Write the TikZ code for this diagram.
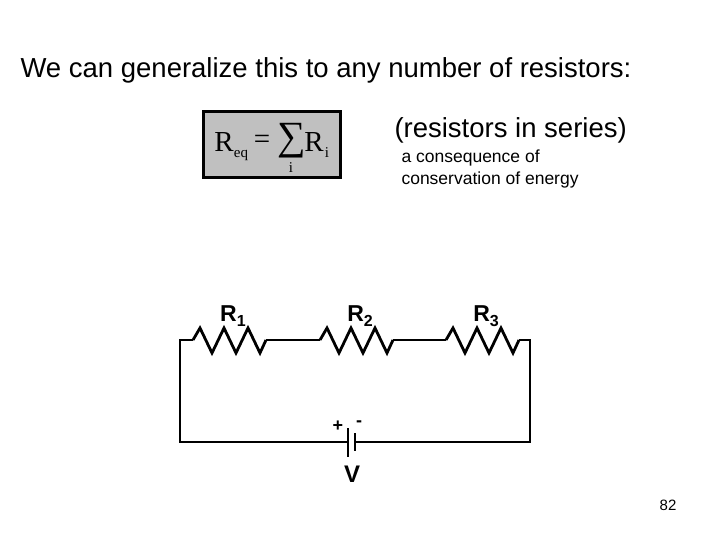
\documentclass[tikz,border=0pt]{standalone}
\usepackage{fontspec}
\setmainfont{Liberation Sans}
\newfontfamily\serifr{Liberation Serif}
\begin{document}
\begin{tikzpicture}[x=1pt,y=-1pt,wire/.style={line width=2.8pt,line join=miter},
  fs/.style={font=\serifr\fontsize{#1}{#1}\selectfont,inner sep=0}]
\useasboundingbox (0,0) rectangle (720,540);
\node[anchor=west,font=\fontsize{27.5}{30}\selectfont] (title) at (17,70) {We can generalize this to any number of resistors:};
\node[draw,line width=2.5pt,fill={rgb,255:red,192;green,192;blue,192},minimum width=137,minimum height=66] (box) at (272,144.5) {};
\node[fs=29] (fR) at (224,142) {R};
\node[fs=15] (feq) at (241,155) {eq};
\node[fs=29] (feqs) at (262,142) {=};
\node[fs=40] (fsum) at (292,141) {∑};
\node[fs=15] (fi1) at (291,168) {i};
\node[fs=29] (fR2) at (314,142) {R};
\node[fs=15] (fi2) at (327,153) {i};
\node[anchor=west,font=\fontsize{27.5}{30}\selectfont] (ser) at (391,130) {(resistors in series)};
\node[anchor=west,font=\fontsize{17.5}{22}\selectfont,align=left] (cons) at (398,169) {a consequence of\\conservation of energy};
\foreach \n/\a in {1/193,2/320,3/446}{
  \coordinate (r\n l) at (\a,340);
  \coordinate (r\n r) at (\a+73,340);
  \draw[wire] (r\n l) -- ++(7,-12) -- ++(12,25) -- ++(12,-25) -- ++(12,25) -- ++(12,-25) -- ++(12,25) -- (r\n r);
  \node[font=\bfseries\fontsize{23}{26}\selectfont] (lab\n) at (\a+40,316) {R\raisebox{-5pt}{\fontsize{16}{18}\selectfont\n}};
}
\coordinate (tl) at (180,340); \coordinate (bl) at (180,442);
\coordinate (tr) at (530,340); \coordinate (br) at (530,442);
\coordinate (bp) at (348,442); \coordinate (bn) at (355,442);
\draw[wire] (r1l) -- (tl) -- (bl) -- (bp);
\draw[wire] (r1r) -- (r2l); \draw[wire] (r2r) -- (r3l);
\draw[wire] (r3r) -- (tr) -- (br) -- (bn);
\draw[line width=2.4pt] (348,428) -- (348,457);
\draw[line width=2.4pt] (355,433) -- (355,451);
\node[font=\bfseries\fontsize{18}{20}\selectfont] (plus) at (338,426) {+};
\node[font=\bfseries\fontsize{18}{20}\selectfont] (minus) at (359,424) {-};
\node[font=\bfseries\fontsize{24}{26}\selectfont] (V) at (352,474) {V};
\node[font=\fontsize{15}{17}\selectfont] (num) at (668,505) {82};
\end{tikzpicture}
\end{document}
